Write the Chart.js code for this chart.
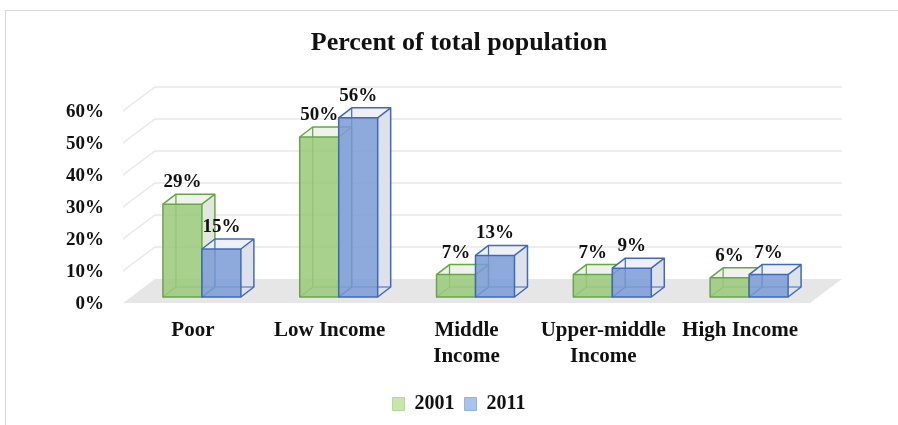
<!DOCTYPE html>
<html>
<head>
<meta charset="utf-8">
<title>Percent of total population</title>
<script src="https://cdn.jsdelivr.net/npm/chart.js@4.4.1/dist/chart.umd.min.js"></script>
<style>
  html, body { margin: 0; padding: 0; background: #fff; }
  canvas { display: block; }
</style>
</head>
<body>
<canvas id="chart" width="898" height="425"></canvas>
<script>
// income groups on the x axis
const categories = ["Poor", "Low Income", ["Middle", "Income"], ["Upper-middle", "Income"], "High Income"];
// share of total population, percent
const share2001 = [29, 50, 7, 7, 6];
const share2011 = [15, 56, 13, 9, 7];
const seriesLabels = ["2001", "2011"];
// value axis: 0% .. 60% every 10%
const yMin = 0;
const yMax = 60;
const yStep = 10;

const SERIF = "'Liberation Serif', 'Times New Roman', serif";
const DEPTH_X = 13;   // bar depth, pixels right
const DEPTH_Y = -10;  // bar depth, pixels up

const faces = [
  { front: "rgba(154,201,122,0.85)", edge: "#66a647", top: "#eef2ea", side: "#e1e6de", legend: "#c6e7ab", legendEdge: "#b3d897" },
  { front: "rgba(122,155,214,0.85)", edge: "#4169ba", top: "#edf0f5", side: "#dce1ea", legend: "#a9c3ec", legendEdge: "#94b3e3" }
];

const pct = v => v + "%";

function drawBox(ctx, bar, f) {
  const { x, y, base, width } = bar.getProps(["x", "y", "base", "width"], true);
  const x0 = x - width / 2, x1 = x + width / 2;
  const dx = DEPTH_X, dy = DEPTH_Y;

  // side face
  ctx.fillStyle = f.side;
  ctx.beginPath();
  ctx.moveTo(x1, y);
  ctx.lineTo(x1 + dx, y + dy);
  ctx.lineTo(x1 + dx, base + dy);
  ctx.lineTo(x1, base);
  ctx.closePath();
  ctx.fill();

  // top face
  ctx.fillStyle = f.top;
  ctx.beginPath();
  ctx.moveTo(x0, y);
  ctx.lineTo(x0 + dx, y + dy);
  ctx.lineTo(x1 + dx, y + dy);
  ctx.lineTo(x1, y);
  ctx.closePath();
  ctx.fill();

  // back edges, they show through the front
  ctx.strokeStyle = f.edge;
  ctx.lineWidth = 1.2;
  ctx.beginPath();
  ctx.moveTo(x0, base);
  ctx.lineTo(x0 + dx, base + dy);
  ctx.lineTo(x1 + dx, base + dy);
  ctx.moveTo(x0 + dx, base + dy);
  ctx.lineTo(x0 + dx, y + dy);
  ctx.stroke();

  // front face
  ctx.fillStyle = f.front;
  ctx.fillRect(x0, y, width, base - y);

  // outline
  ctx.lineWidth = 1.5;
  ctx.lineJoin = "round";
  ctx.strokeRect(x0, y, width, base - y);
  ctx.beginPath();
  ctx.moveTo(x0, y);
  ctx.lineTo(x0 + dx, y + dy);
  ctx.lineTo(x1 + dx, y + dy);
  ctx.lineTo(x1 + dx, base + dy);
  ctx.lineTo(x1, base);
  ctx.moveTo(x1, y);
  ctx.lineTo(x1 + dx, y + dy);
  ctx.stroke();
}

// fake 3D: frame, floor, back wall, boxes, value labels
const boxes3d = {
  id: "boxes3d",
  beforeDraw(chart) {
    const ctx = chart.ctx;
    ctx.save();
    ctx.strokeStyle = "#d9d9d9";
    ctx.lineWidth = 1;
    ctx.strokeRect(5.5, 10.5, 1000, 1000);
    ctx.restore();
  },
  beforeDatasetsDraw(chart) {
    const { ctx, chartArea, scales: { y } } = chart;
    const xl = chartArea.left - 10.5;
    const xr = chartArea.right + 24.5;
    const dx = 32;
    const back = v => y.getPixelForValue(v) - 18;
    const front = v => y.getPixelForValue(v) + 6;
    ctx.save();
    ctx.fillStyle = "#e6e6e6";
    ctx.beginPath();
    ctx.moveTo(xl, front(yMin));
    ctx.lineTo(xl + dx, back(yMin));
    ctx.lineTo(xr, back(yMin));
    ctx.lineTo(xr - dx, front(yMin));
    ctx.closePath();
    ctx.fill();
    ctx.strokeStyle = "#e8e8e8";
    ctx.lineWidth = 1.5;
    for (let v = yMin + yStep; v <= yMax; v += yStep) {
      ctx.beginPath();
      ctx.moveTo(xl, front(v));
      ctx.lineTo(xl + dx, back(v));
      ctx.lineTo(xr, back(v));
      ctx.stroke();
    }
    ctx.restore();
  },
  afterDatasetsDraw(chart) {
    const ctx = chart.ctx;
    ctx.save();
    // 2001 first, 2011 in front of it
    chart.data.datasets.forEach((ds, i) => {
      chart.getDatasetMeta(i).data.forEach(bar => drawBox(ctx, bar, faces[i]));
    });
    ctx.font = "bold 19px " + SERIF;
    ctx.fillStyle = "#111";
    ctx.textAlign = "center";
    ctx.textBaseline = "middle";
    chart.data.datasets.forEach((ds, i) => {
      chart.getDatasetMeta(i).data.forEach((bar, j) => {
        const { x, y } = bar.getProps(["x", "y"], true);
        ctx.fillText(pct(ds.data[j]), x, y - 22);
      });
    });
    ctx.restore();
  }
};

new Chart(document.getElementById("chart"), {
  type: "bar",
  data: {
    labels: categories,
    datasets: [
      {
        label: seriesLabels[0],
        data: share2001,
        backgroundColor: "rgba(0,0,0,0)",
        borderWidth: 0
      },
      {
        label: seriesLabels[1],
        data: share2011,
        backgroundColor: "rgba(0,0,0,0)",
        borderWidth: 0
      }
    ]
  },
  options: {
    responsive: false,
    devicePixelRatio: 1,
    animation: false,
    layout: { padding: { left: 20, right: 0, top: 27.4, bottom: 1 } },
    datasets: { bar: { categoryPercentage: 0.57, barPercentage: 1 } },
    scales: {
      x: {
        grid: { display: false, drawTicks: false },
        border: { display: false },
        ticks: {
          color: "#111",
          font: { family: SERIF, size: 21, weight: "bold", lineHeight: 1.2 },
          padding: 21.4,
          labelOffset: -9,
          maxRotation: 0,
          autoSkip: false
        },
        afterFit(scale) { scale.height = 87; }
      },
      y: {
        min: yMin,
        max: yMax,
        grid: { display: false, drawTicks: false },
        border: { display: false },
        ticks: {
          stepSize: yStep,
          callback: pct,
          color: "#111",
          font: { family: SERIF, size: 19, weight: "bold" },
          padding: 29.5,
          labelOffset: 7
        },
        afterFit(scale) { scale.width = 113.5; }
      },
      yRight: {
        type: "linear",
        axis: "y",
        position: "right",
        grid: { display: false, drawTicks: false },
        border: { display: false },
        ticks: { display: false },
        afterFit(scale) { scale.width = 80.5; }
      }
    },
    plugins: {
      title: {
        display: true,
        text: "Percent of total population",
        color: "#111",
        font: { family: SERIF, size: 26, weight: "bold", lineHeight: 1.2 },
        padding: { top: 0, bottom: 46.4 }
      },
      legend: {
        position: "bottom",
        labels: {
          color: "#111",
          font: { family: SERIF, size: 20, weight: "bold" },
          boxWidth: 12,
          boxHeight: 13,
          padding: 10,
          generateLabels(chart) {
            const items = Chart.defaults.plugins.legend.labels.generateLabels(chart);
            items.forEach(item => {
              const f = faces[item.datasetIndex];
              item.fillStyle = f.legend;
              item.strokeStyle = f.legendEdge;
              item.lineWidth = 1;
            });
            return items;
          }
        }
      },
      tooltip: { enabled: false }
    }
  },
  plugins: [boxes3d]
});
</script>
</body>
</html>
